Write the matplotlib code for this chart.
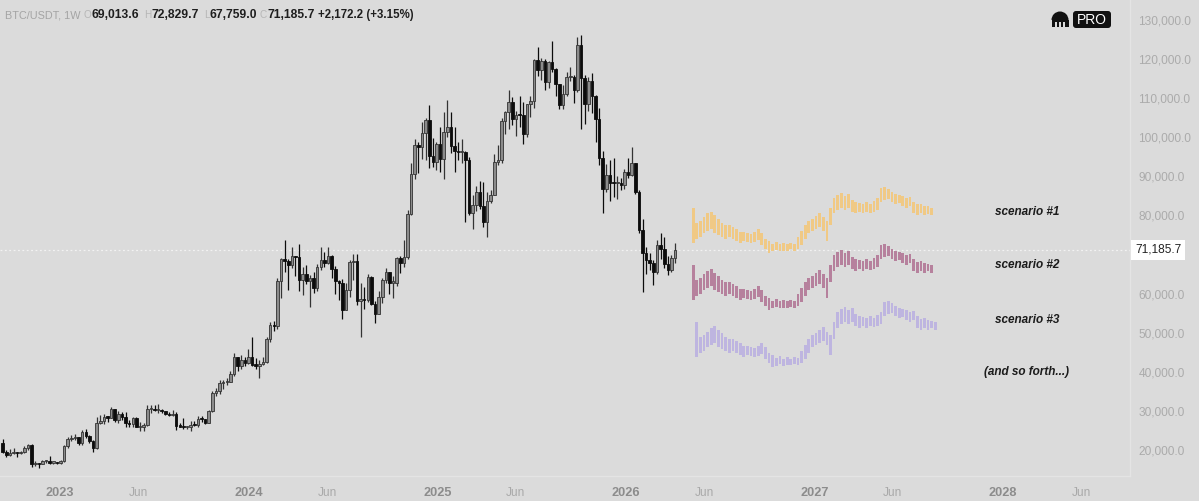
import matplotlib
matplotlib.use('Agg')
import matplotlib.pyplot as plt
import matplotlib.dates as mdates
from matplotlib.patches import FancyBboxPatch, Rectangle, Wedge
from matplotlib.transforms import blended_transform_factory
import numpy as np
import pandas as pd

plt.rcParams['font.family'] = ['Liberation Sans', 'DejaVu Sans']

# weekly BTC/USDT candles (prices in thousands of USDT), weeks start on Monday
start_week = '2022-09-12'
first_open = 21.8
closes = [
    19.4, 18.8, 19.3, 19.4, 19.2, 19.6, 20.6, 21.3, 16.3, 16.7, 16.5, 17.1, 17.1, 16.8, 16.8, 16.6,
    # 2023
    17.2, 20.9, 22.7, 23.0, 23.3, 21.8, 24.6, 23.5, 22.4, 20.6, 26.9, 27.5, 28.5, 28.3, 30.4, 27.6,
    29.2, 28.4, 26.9, 26.7, 28.1, 25.8, 25.9, 26.3, 30.5, 30.6, 30.2, 30.3, 29.9, 29.3, 29.0, 29.3,
    26.1, 26.0, 25.8, 25.8, 26.5, 26.3, 28.0, 27.9, 26.9, 30.0, 34.5, 35.0, 37.1, 37.4, 37.5, 39.5,
    43.9, 41.4, 43.0, 42.3,
    # 2024
    43.9, 41.7, 41.6, 42.0, 42.6, 48.3, 52.1, 51.7, 63.1, 68.9, 68.4, 67.2, 69.7, 69.4, 63.4, 64.9,
    63.1, 63.9, 61.5, 66.9, 68.5, 67.8, 69.6, 66.4, 63.2, 62.8, 55.9, 60.8, 68.1, 68.3, 58.1, 58.7,
    58.4, 64.2, 57.3, 54.8, 59.1, 63.6, 65.6, 62.8, 62.8, 69.0, 67.9, 69.4, 80.4, 90.6, 97.9, 97.4,
    101.1, 104.4, 95.2, 93.7, 98.3,
    # 2025
    94.5, 101.3, 102.6, 97.7, 96.5, 96.1, 96.3, 94.3, 80.7, 82.6, 86.1, 82.4, 78.4, 83.8, 85.3, 93.7,
    94.3, 104.1, 106.5, 109.0, 104.6, 105.7, 105.6, 100.9, 108.4, 109.2, 119.8, 117.3, 119.4, 114.2,
    119.3, 117.4, 113.5, 108.3, 111.1, 115.3, 115.3, 112.2, 123.5, 115.2, 108.6, 114.5, 110.6, 104.7,
    94.6, 86.8, 90.4, 88.4, 88.2, 88.4, 87.8, 91.1,
    # 2026
    90.3, 93.4, 86.0, 76.3, 70.4, 68.6, 67.8, 65.5, 72.5, 71.5, 67.6, 66.0, 69.0, 71.1857,
]
highs = [
    22.7, 19.9, 20.2, 20.5, 19.6, 19.7, 21.0, 21.5, 21.5, 17.2, 16.8, 17.4, 17.4, 18.4, 17.0, 17.0,
    17.4, 21.3, 23.4, 23.8, 24.2, 23.4, 25.2, 25.3, 23.9, 22.6, 28.4, 28.9, 29.2, 28.8, 31.0, 30.4,
    30.0, 29.8, 29.8, 27.6, 28.5, 28.4, 27.1, 27.0, 31.4, 31.4, 31.5, 31.8, 30.4, 30.0, 29.8, 30.2,
    29.7, 26.8, 28.1, 26.1, 27.5, 27.4, 28.6, 28.6, 28.0, 30.3, 35.2, 35.9, 37.9, 38.0, 38.4, 40.2,
    44.7, 43.4, 44.4, 43.8,
    45.9, 49.0, 43.6, 42.9, 43.9, 48.9, 52.8, 52.9, 64.0, 69.2, 73.8, 68.9, 71.8, 69.6, 72.8, 66.9,
    67.2, 64.7, 65.5, 67.5, 71.9, 70.6, 71.9, 70.0, 67.0, 63.4, 63.8, 62.8, 68.5, 70.1, 70.1, 62.7,
    61.8, 65.0, 64.5, 58.0, 60.6, 64.0, 66.5, 65.6, 64.5, 69.4, 69.5, 73.6, 81.5, 93.4, 99.6, 98.8,
    104.0, 105.0, 108.3, 99.9, 98.9,
    102.7, 106.4, 109.6, 106.4, 102.5, 98.8, 99.5, 96.5, 95.0, 85.3, 87.5, 88.8, 88.5, 86.1, 86.4, 95.8,
    97.9, 104.9, 106.7, 112.0, 110.4, 106.8, 110.6, 108.9, 108.5, 110.5, 119.9, 123.2, 120.2, 120.0,
    119.4, 124.5, 117.6, 113.6, 113.4, 116.7, 117.9, 115.9, 125.7, 126.2, 115.9, 115.5, 116.4, 110.8,
    107.5, 96.6, 93.1, 94.2, 94.6, 90.0, 89.5, 92.0,
    94.8, 97.5, 93.5, 86.5, 79.0, 72.0, 70.5, 68.5, 73.7, 75.5, 74.5, 69.5, 70.0, 72.8297,
]
lows = [
    19.3, 18.1, 18.5, 19.0, 18.2, 18.9, 19.2, 20.0, 15.6, 16.0, 15.5, 16.4, 16.7, 16.3, 16.3, 16.4,
    16.5, 17.0, 20.4, 22.3, 22.6, 21.4, 21.4, 23.1, 21.9, 19.6, 20.2, 26.6, 26.6, 27.2, 28.1, 27.1,
    27.0, 27.6, 25.8, 25.9, 26.0, 25.8, 24.8, 24.8, 26.1, 29.5, 29.9, 29.5, 29.5, 29.0, 28.6, 28.6,
    25.2, 25.8, 25.3, 25.4, 24.9, 26.2, 26.0, 27.2, 26.6, 26.8, 29.8, 33.9, 34.3, 35.5, 36.7, 37.5,
    39.0, 40.2, 40.6, 41.5,
    42.1, 41.5, 40.6, 38.5, 41.8, 42.3, 47.7, 50.5, 50.9, 59.0, 65.6, 60.8, 66.6, 64.5, 60.7, 59.6,
    62.4, 56.6, 60.2, 60.7, 66.1, 66.7, 67.5, 64.1, 60.0, 58.4, 53.5, 56.5, 59.2, 63.5, 57.1, 49.0,
    56.1, 57.8, 57.2, 52.6, 55.6, 57.5, 62.6, 59.8, 58.9, 62.0, 65.3, 66.8, 68.8, 80.2, 89.3, 90.8,
    94.5, 94.1, 92.2, 92.5, 91.5,
    91.2, 89.3, 100.0, 96.0, 91.2, 94.1, 93.4, 78.2, 80.0, 76.6, 81.2, 81.6, 77.1, 74.5, 83.1, 85.1,
    92.8, 93.4, 100.7, 102.1, 103.1, 100.4, 102.7, 98.2, 100.0, 105.1, 107.5, 115.7, 114.7, 112.0,
    112.6, 116.8, 110.5, 107.3, 107.3, 110.6, 114.4, 108.7, 111.6, 102.0, 103.5, 106.7, 106.3, 98.9,
    93.0, 80.6, 85.9, 83.8, 84.7, 84.2, 86.5, 86.8,
    89.5, 90.0, 85.5, 75.5, 60.4, 65.0, 66.0, 62.2, 65.0, 68.8, 66.5, 64.8, 65.5, 67.759,
]

# projected scenarios: scenario #1 bar ranges, the others are the same path moved down
scen_lo = [73.0, 74.0, 74.5, 75.5, 76.0, 76.5, 75.5, 75.0, 74.5, 74.0, 74.5, 74.0, 73.5, 73.0,
           73.5, 73.2, 73.0, 73.3, 73.8, 72.5, 71.5, 70.4, 70.8, 71.2, 70.8, 71.0, 70.9, 71.3,
           71.0, 71.5, 72.5, 74.0, 75.5, 76.0, 76.5, 77.0, 76.0, 73.5, 77.5, 80.5, 81.5, 82.0,
           81.5, 82.0, 81.0, 80.5, 80.8, 80.5, 81.0, 80.6, 81.0, 81.5, 83.5, 84.0, 84.2, 83.5,
           83.0, 83.2, 82.5, 82.0, 82.5, 80.5, 80.0, 80.5, 80.0, 80.3, 80.0]
scen_hi = [81.9, 78.0, 78.5, 79.5, 80.5, 80.9, 80.0, 79.0, 78.0, 77.5, 77.6, 77.0, 76.5, 75.8,
           75.8, 75.5, 75.3, 75.8, 76.5, 75.5, 74.0, 73.5, 72.8, 73.2, 72.6, 73.0, 72.6, 73.0,
           72.8, 74.5, 76.0, 77.5, 78.5, 79.0, 79.8, 80.6, 79.5, 78.5, 82.0, 84.5, 85.2, 85.7,
           85.0, 85.5, 84.0, 83.5, 83.2, 83.0, 83.5, 83.0, 83.8, 84.5, 87.0, 87.2, 86.8, 86.0,
           85.5, 85.2, 85.0, 84.5, 84.8, 83.5, 82.8, 83.0, 82.5, 82.3, 82.0]
scen_start = ['2026-05-11', '2026-05-11', '2026-05-18']
scen_shift = [0.0, -14.6, -29.2]
scen_colors = ['#f0c985', '#b6819d', '#beb5e0']
scen_labels = ['scenario #1', 'scenario #2', 'scenario #3', '(and so forth...)']
scen_label_y = [80.9, 67.3, 53.3, 40.0]

bg = '#dbdbdb'
fig = plt.figure(figsize=(11.99, 5.01), dpi=100)
fig.patch.set_facecolor(bg)
ax = fig.add_axes([0, 1 - 476 / 501, 1130 / 1199, 476 / 501])
ax.set_facecolor(bg)

dates = pd.date_range(start_week, periods=len(closes), freq='7D')
x = mdates.date2num(dates)
opens = np.array([first_open] + closes[:-1])
c = np.array(closes)
h = np.maximum(np.array(highs), np.maximum(opens, c))
l = np.minimum(np.array(lows), np.minimum(opens, c))
up = c >= opens
w = 5.0

for mask, face, edge in [(up, '#8b8b8b', '#333333'), (~up, '#0c0c0c', '#0c0c0c')]:
    ax.vlines(x[mask], l[mask], h[mask], color=edge, lw=0.9, zorder=2)
    bottom = np.minimum(opens, c)[mask]
    height = np.maximum(np.abs(c - opens)[mask], 0.3)
    ax.bar(x[mask], height, bottom=bottom, width=w, color=face, edgecolor=edge,
           linewidth=0.6, zorder=3)

for start, shift, col in zip(scen_start, scen_shift, scen_colors):
    sx = mdates.date2num(pd.date_range(start, periods=len(scen_lo), freq='7D'))
    lo = np.array(scen_lo) + shift
    hi = np.array(scen_hi) + shift
    ax.bar(sx, hi - lo, bottom=lo, width=5.3, color=col, linewidth=0, zorder=3)

# last price line and label
last = closes[-1]
ax.axhline(last, color='#f2f2f2', lw=0.9, ls=(0, (1.5, 2)), zorder=1)
trans = blended_transform_factory(ax.transAxes, ax.transData)
ax.text(1.0 + 5 / 1130, last, f'{last * 1000:,.1f}', transform=trans, ha='left', va='center',
        fontsize=8.6, color='#222222', clip_on=False,
        bbox=dict(boxstyle='square,pad=0.35', fc='white', ec='none'))

for lab, yv in zip(scen_labels, scen_label_y):
    ax.text(1027 / 1130, yv, lab, transform=trans, ha='center', va='center', fontsize=8.5,
            style='italic', weight='bold', color='#1c1c1c')

# axes ranges
d0 = mdates.date2num(pd.Timestamp('2023-01-01'))
px_day = 943 / 1826
ax.set_xlim(d0 - 60 / px_day, d0 + 1070 / px_day)
ax.set_ylim(13.35, 135.1)

# the 70,000.0 label sits under the last-price box
yt = np.arange(20, 131, 10)
ax.yaxis.tick_right()
ax.set_yticks(yt)
ax.set_yticklabels(['' if v == 70 else f'{v * 1000:,.1f}' for v in yt])
ax.tick_params(axis='y', length=0, pad=6, labelsize=8.6, labelcolor='#ababab')

xt, xl = [], []
for yr in range(2023, 2029):
    xt += [pd.Timestamp(f'{yr}-01-01'), pd.Timestamp(f'{yr}-06-01')]
    xl += [str(yr), 'Jun']
ax.set_xticks(mdates.date2num(xt))
ax.set_xticklabels(xl)
ax.tick_params(axis='x', length=0, pad=8)
for t in ax.get_xticklabels():
    if t.get_text() == 'Jun':
        t.set_color('#a9a9a9')
        t.set_fontsize(8.6)
    else:
        t.set_color('#8c8c8c')
        t.set_fontweight('bold')
        t.set_fontsize(9.2)

for s in ['top', 'left']:
    ax.spines[s].set_visible(False)
for s in ['right', 'bottom']:
    ax.spines[s].set_color('#e4e4e4')
    ax.spines[s].set_linewidth(1)

# header and logo in pixel coordinates
ov = fig.add_axes([0, 0, 1, 1])
ov.set_xlim(0, 1199)
ov.set_ylim(501, 0)
ov.axis('off')
ov.patch.set_alpha(0)

ov.text(5, 15, 'BTC/USDT, 1W', fontsize=7.8, color='#a4a4a4', va='center')
hdr = [(92, 'O', '69,013.6'), (152, 'H', '72,829.7'), (210, 'L', '67,759.0'), (267, 'C', '71,185.7')]
for xp, key, val in hdr:
    ov.text(xp - 0.5, 15, key, fontsize=7.2, color='#b6b6b6', va='center', ha='right')
    ov.text(xp, 15, val, fontsize=8.7, color='#1e1e1e', va='center', weight='bold')
ov.text(318, 15, '+2,172.2 (+3.15%)', fontsize=8.3, color='#1e1e1e', va='center', weight='bold')

ov.add_patch(FancyBboxPatch((1073, 11), 38, 17, boxstyle='round,pad=0,rounding_size=3',
                            fc='#111111', ec='none'))
ov.text(1092, 19.8, 'PRO', color='white', fontsize=10, ha='center', va='center')
ov.add_patch(Wedge((1060, 20), 8.5, 180, 360, fc='#111111', ec='none'))
ov.add_patch(Rectangle((1051.5, 20), 17, 7, fc='#111111', ec='none'))
for gx in [1055.2, 1059.2, 1063.2]:
    ov.add_patch(Rectangle((gx, 21.5), 1.6, 6, fc=bg, ec='none'))

fig.savefig('out.png', dpi=100, facecolor=bg)
